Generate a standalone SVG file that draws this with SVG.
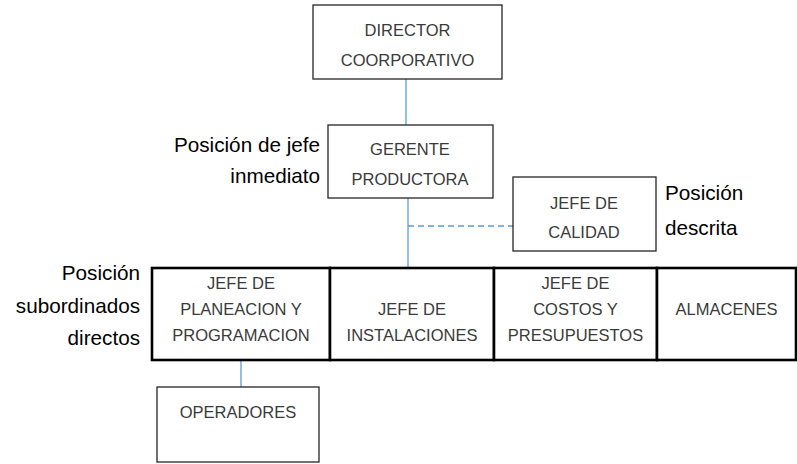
<svg xmlns="http://www.w3.org/2000/svg" width="797" height="464" viewBox="0 0 797 464">
<style>
.box{fill:#fff;stroke:#262626;stroke-width:1.3}
.row{fill:#fff;stroke:#000;stroke-width:2.6}
.t{font-family:"Liberation Sans",Arial,sans-serif;font-size:16.5px;fill:#3a3a3a;text-anchor:middle}
.lbl{font-family:"Liberation Sans",Arial,sans-serif;font-size:20.7px;fill:#000}
.con{stroke:#5B9BD5;stroke-width:1.3;fill:none}
.dash{stroke-dasharray:6 4}
</style>
<rect width="797" height="464" fill="#fff"/>
<g id="connectors">
<line class="con" x1="406" y1="79" x2="406" y2="125"/>
<line class="con" x1="408" y1="198" x2="408" y2="268"/>
<line class="con dash" x1="408" y1="226" x2="513" y2="226"/>
<line class="con" x1="241" y1="360" x2="241" y2="387"/>
</g>
<g id="director">
<rect class="box" x="313" y="5" width="189" height="74"/>
<text class="t" x="407.5" y="36">DIRECTOR</text>
<text class="t" x="407.5" y="66">COORPORATIVO</text>
</g>
<g id="gerente">
<rect class="box" x="328" y="125" width="165" height="73"/>
<text class="t" x="410" y="155">GERENTE</text>
<text class="t" x="410" y="185">PRODUCTORA</text>
</g>
<g id="calidad">
<rect class="box" x="513" y="177" width="143" height="74"/>
<text class="t" x="584" y="209">JEFE DE</text>
<text class="t" x="584" y="238">CALIDAD</text>
</g>
<g id="planeacion">
<rect class="row" x="152" y="268" width="178" height="92"/>
<text class="t" x="241" y="289">JEFE DE</text>
<text class="t" x="241" y="315">PLANEACION Y</text>
<text class="t" x="241" y="341">PROGRAMACION</text>
</g>
<g id="instalaciones">
<rect class="row" x="330" y="268" width="164" height="92"/>
<text class="t" x="412" y="315">JEFE DE</text>
<text class="t" x="412" y="341">INSTALACIONES</text>
</g>
<g id="costos">
<rect class="row" x="494" y="268" width="163" height="92"/>
<text class="t" x="575.5" y="289">JEFE DE</text>
<text class="t" x="575.5" y="315">COSTOS Y</text>
<text class="t" x="575.5" y="341">PRESUPUESTOS</text>
</g>
<g id="almacenes">
<rect class="row" x="657" y="268" width="139" height="92"/>
<text class="t" x="726.5" y="315">ALMACENES</text>
</g>
<g id="operadores">
<rect class="box" x="157" y="387" width="162" height="75"/>
<text class="t" x="238" y="418">OPERADORES</text>
</g>
<g id="labels">
<text class="lbl" x="320" y="152" text-anchor="end">Posición de jefe</text>
<text class="lbl" x="320" y="183" text-anchor="end">inmediato</text>
<text class="lbl" x="665" y="200">Posición</text>
<text class="lbl" x="665" y="235">descrita</text>
<text class="lbl" x="140" y="280" text-anchor="end">Posición</text>
<text class="lbl" x="140" y="313" text-anchor="end">subordinados</text>
<text class="lbl" x="140" y="345" text-anchor="end">directos</text>
</g>
</svg>
